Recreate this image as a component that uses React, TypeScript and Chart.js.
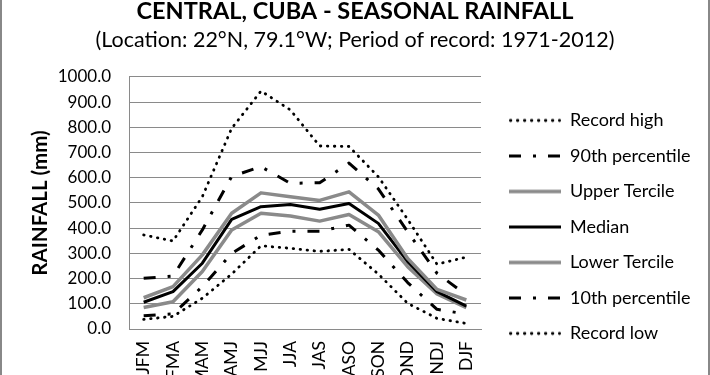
import React, { useEffect, useRef } from 'react';
import { Chart, registerables } from 'chart.js';

Chart.register(...registerables);

const categories = ['JFM', 'FMA', 'MAM', 'AMJ', 'MJJ', 'JJA', 'JAS', 'ASO', 'SON', 'OND', 'NDJ', 'DJF'];
const recordHigh = [373, 349, 525, 796, 944, 869, 726, 724, 604, 435, 257, 285];
const pct90 = [201, 210, 393, 605, 644, 578, 580, 658, 556, 386, 221, 135];
const upperTercile = [124, 168, 294, 459, 540, 525, 510, 544, 452, 280, 157, 115];
const median = [106, 148, 261, 435, 485, 494, 475, 498, 419, 267, 148, 91];
const lowerTercile = [85, 108, 228, 393, 459, 448, 428, 454, 386, 247, 139, 85];
const pct10 = [53, 60, 168, 300, 372, 388, 388, 412, 313, 184, 78, 59];
const recordLow = [38, 50, 122, 218, 330, 320, 308, 316, 218, 102, 42, 22];
const yMin = 0;
const yMax = 1000;
const yStep = 100;

const titleText = 'CENTRAL, CUBA - SEASONAL RAINFALL';
const subtitleText = '(Location: 22°N, 79.1°W; Period of record: 1971-2012)';
const yTitle = 'RAINFALL (mm)';

const FONT = 'Lato, "Open Sans", sans-serif';
const GRAY = '#8a8a8a';
const DOT = [0.5, 6.5];
const DASHDOT = [12, 12, 3, 12];
const SAMPLE_W = 52;
const LEGEND_W = 218.5;

function sample(color: string, width: number, dash: number[], cap: CanvasLineCap) {
  const c = document.createElement('canvas');
  c.width = SAMPLE_W;
  c.height = 8;
  const g = c.getContext('2d')!;
  g.strokeStyle = color;
  g.lineWidth = width;
  g.lineCap = cap;
  g.setLineDash(dash);
  g.beginPath();
  const inset = cap === 'round' ? width / 2 : 0;
  g.moveTo(inset, 4);
  g.lineTo(SAMPLE_W - inset, 4);
  g.stroke();
  return c;
}

const legendWidthPlugin = {
  id: 'legendWidth',
  beforeLayout(chart: any) {
    const lg = chart.legend;
    if (lg && !lg.__patched) {
      const orig = lg.fit.bind(lg);
      lg.fit = function () {
        orig();
        this.width = LEGEND_W;
      };
      lg.__patched = true;
    }
  },
};

export default function App() {
  const ref = useRef<HTMLCanvasElement>(null);
  useEffect(() => {
    document.body.style.margin = '0';
    document.body.style.overflow = 'hidden';
    const canvas = ref.current!;
    const mk = (label: string, data: number[], color: string, width: number, dash: number[], cap: CanvasLineCap) => ({
      label,
      data,
      borderColor: color,
      backgroundColor: color,
      borderWidth: width,
      borderDash: dash,
      borderCapStyle: cap,
      borderJoinStyle: 'round' as CanvasLineJoin,
      pointRadius: 0,
      pointHoverRadius: 0,
      pointStyle: sample(color, width, dash, cap),
      tension: 0,
      fill: false,
    });
    const chart = new Chart(canvas, {
      type: 'line',
      data: {
        labels: categories,
        datasets: [
          mk('Record high', recordHigh, '#000', 2.8, DOT, 'round'),
          mk('90th percentile', pct90, '#000', 3, DASHDOT, 'butt'),
          mk('Upper Tercile', upperTercile, GRAY, 3.5, [], 'butt'),
          mk('Median', median, '#000', 3, [], 'butt'),
          mk('Lower Tercile', lowerTercile, GRAY, 3.5, [], 'butt'),
          mk('10th percentile', pct10, '#000', 3, DASHDOT, 'butt'),
          mk('Record low', recordLow, '#000', 2.8, DOT, 'round'),
        ],
      },
      plugins: [legendWidthPlugin],
      options: {
        responsive: false,
        animation: false,
        events: [],
        layout: { padding: { left: 0, right: 0, top: 0, bottom: 0 } },
        plugins: {
          title: {
            display: true,
            text: titleText,
            color: '#000',
            font: { family: FONT, size: 23.5, weight: 'bold', lineHeight: 1.0 },
            padding: { top: 0, bottom: 3.6 },
          },
          subtitle: {
            display: true,
            text: subtitleText,
            color: '#000',
            font: { family: FONT, size: 21.5, lineHeight: 1.2 },
            padding: { top: 0, bottom: 24 },
          },
          legend: {
            display: true,
            position: 'right',
            align: 'start',
            title: { display: true, text: '', font: { size: 10, lineHeight: 1 }, padding: { top: 84, bottom: 0 } },
            labels: {
              usePointStyle: true,
              pointStyleWidth: SAMPLE_W,
              padding: 17.5,
              color: '#000',
              font: { family: FONT, size: 18 },
            },
          },
          tooltip: { enabled: false },
        },
        scales: {
          x: {
            type: 'category',
            offset: true,
            grid: { display: false, drawTicks: false },
            border: { display: true, color: GRAY, width: 1 },
            ticks: {
              minRotation: 90,
              maxRotation: 90,
              autoSkip: false,
              padding: 12,
              color: '#000',
              font: { family: FONT, size: 17.5 },
            },
            afterFit: (s: any) => { s.height = 71; },
          },
          y: {
            min: yMin,
            max: yMax,
            grid: { color: GRAY, lineWidth: 1, drawTicks: false },
            border: { display: true, color: GRAY, width: 1 },
            ticks: {
              stepSize: yStep,
              padding: 18,
              color: '#000',
              font: { family: FONT, size: 17 },
              callback: (v: any) => Number(v).toFixed(1),
            },
            title: {
              display: true,
              text: yTitle,
              color: '#000',
              font: { family: FONT, size: 20.5, weight: 'bold' },
              padding: { top: 28, bottom: 0 },
            },
            afterFit: (s: any) => { s.width = 129; },
          },
          gap: {
            position: 'right',
            display: true,
            grid: { display: false, drawTicks: false },
            border: { display: false },
            ticks: { display: false },
            afterFit: (s: any) => { s.width = 10.5; },
          },
        },
      } as any,
    });
    return () => chart.destroy();
  }, []);
  return (
    <div style={{ position: 'relative', width: 710, height: 400 }}>
      <canvas ref={ref} width={710} height={400} style={{ display: 'block' }} />
      <div style={{ position: 'absolute', left: 0, top: 0, width: 2, height: 400, background: '#888' }} />
      <div style={{ position: 'absolute', left: 708, top: 0, width: 2, height: 400, background: '#888' }} />
    </div>
  );
}
